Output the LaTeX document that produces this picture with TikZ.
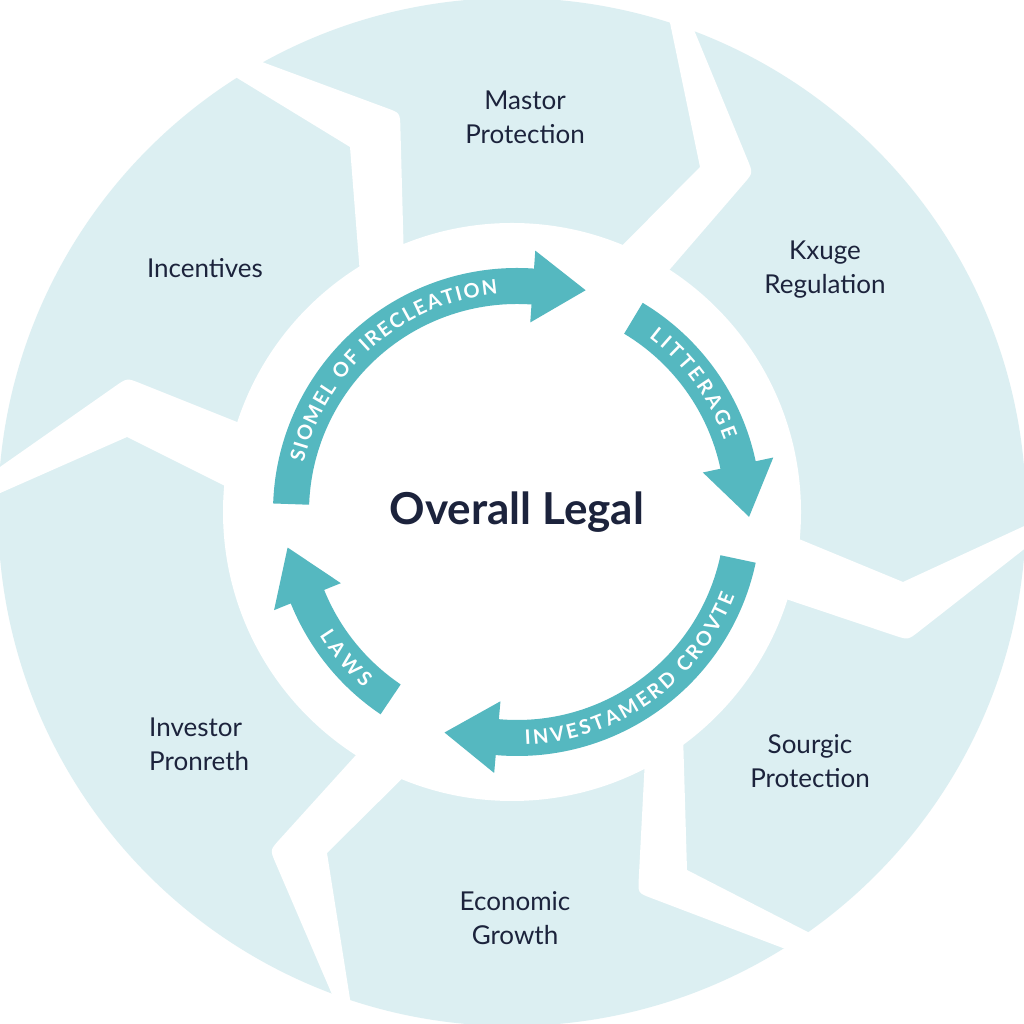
\documentclass[tikz,border=0pt]{standalone}
\usepackage{fontspec}
\setmainfont{Lato}
\usetikzlibrary{calc,decorations.text}
\definecolor{seg}{RGB}{220,239,242}
\definecolor{arrowteal}{RGB}{85,184,192}
\definecolor{ink}{RGB}{28,35,60}
\newcommand{\arrowtxt}{\bfseries\fontsize{20}{20}\selectfont}
\newcommand{\cyclearrow}[2]{%
  \fill[arrowteal] (#1:244) arc[start angle=#1, end angle=#2, radius=244]
    -- (#2:262) -- ($(#2:226)+({#2-90}:53)$) -- (#2:190) -- (#2:208)
    arc[start angle=#2, end angle=#1, radius=208] -- cycle;}
\tikzset{
  lbl/.style={font=\fontsize{26}{34}\selectfont, text=ink, align=center, inner sep=0pt},
  titlelbl/.style={font=\bfseries\fontsize{44}{44}\selectfont, text=ink, inner sep=0pt},
  gap/.style={fill=white},
  arctext/.style={decorate, decoration={text along path, text color=white, text align={fit to path}}}
}
\begin{document}
\begin{tikzpicture}[x=1pt,y=1pt]
\useasboundingbox (0,0) rectangle (1024,1024);
\clip (0,0) rectangle (1024,1024);
\fill[white] (0,0) rectangle (1024,1024);
\begin{scope}[shift={(0,1024)},yscale=-1]
  % outer disk
  \fill[seg] (512,512) circle[radius=514];
  % gaps between segments
  \coordinate (c1) at (400,113);
  \fill[gap] (227,49) -- ($(c1)!14pt!(227,49)$) .. controls (c1) .. ($(c1)!14pt!(405,300)$)
    -- (405,300) -- (362,300) -- (350,147) -- (206,59) -- cycle;
  \coordinate (c2) at (753,173);
  \fill[gap] (664,-6) -- (700,167) -- (597,271) -- (646,297)
    -- ($(c2)!14pt!(646,297)$) .. controls (c2) .. ($(c2)!14pt!(680,-4)$) -- (680,-4) -- cycle;
  \coordinate (c3) at (908,640);
  \fill[gap] (765,525) -- (903,582) -- (1059,510) -- (1055,525)
    -- ($(c3)!14pt!(1055,525)$) .. controls (c3) .. ($(c3)!14pt!(750,587)$) -- (750,587) -- cycle;
  \coordinate (c4) at (638,893);
  \fill[gap] (682,700) -- (687,870) -- (839,948) -- (817,961)
    -- ($(c4)!14pt!(817,961)$) .. controls (c4) .. ($(c4)!14pt!(647,720)$) -- (647,720) -- cycle;
  \coordinate (c5) at (270,850);
  \fill[gap] (385,723) -- ($(c5)!14pt!(385,723)$) .. controls (c5) .. ($(c5)!14pt!(346,1027)$)
    -- (346,1027) -- (356,1037) -- (327,853) -- (431,750) -- cycle;
  \coordinate (c6) at (127,378);
  \fill[gap] (277,438) -- ($(c6)!14pt!(277,438)$) .. controls (c6) .. ($(c6)!14pt!(-30,488)$)
    -- (-30,488) -- (-36,509) -- (127,437) -- (263,505) -- cycle;
  % inner white disk
  \fill[white] (512,512) circle[radius=289];
  % labels
  \node[lbl] (mp) at (525,117) {Mastor\\Protection};
  \node[lbl] (inc) at (205,268) {Incentives};
  \node[lbl] (kr) at (825,270) {Kxuge\\Regulation};
  \node[lbl] (sp) at (810,761) {Sourgic\\Protection};
  \node[lbl] (eg) at (515,918) {Economic\\Growth};
  \node[lbl, align=left, anchor=west] (ip) at (149,744) {Investor\\Pronreth};
  \node[titlelbl] (ol) at (517,512) {Overall Legal};
\end{scope}
\begin{scope}[shift={(517,512)}]
  \cyclearrow{178}{86}
  \cyclearrow{59}{12}
  \cyclearrow{-12}{-95}
  \cyclearrow{236}{202}
  \path[arctext, decoration={text={|\arrowtxt|SIOMEL OF IRECLEATION}}]
    (167:219) arc[start angle=167, end angle=95, radius=219];
  \path[arctext, decoration={text={|\arrowtxt|LITTERAGE}}]
    (53:219) arc[start angle=53, end angle=19, radius=219];
  \path[arctext, decoration={text={|\arrowtxt|INVESTAMERD CROVTE}}]
    (-88:233) arc[start angle=-88, end angle=-21, radius=233];
  \path[arctext, decoration={text={|\arrowtxt|LAWS}}]
    (212:233) arc[start angle=212, end angle=229, radius=233];
\end{scope}
\end{tikzpicture}
\end{document}
